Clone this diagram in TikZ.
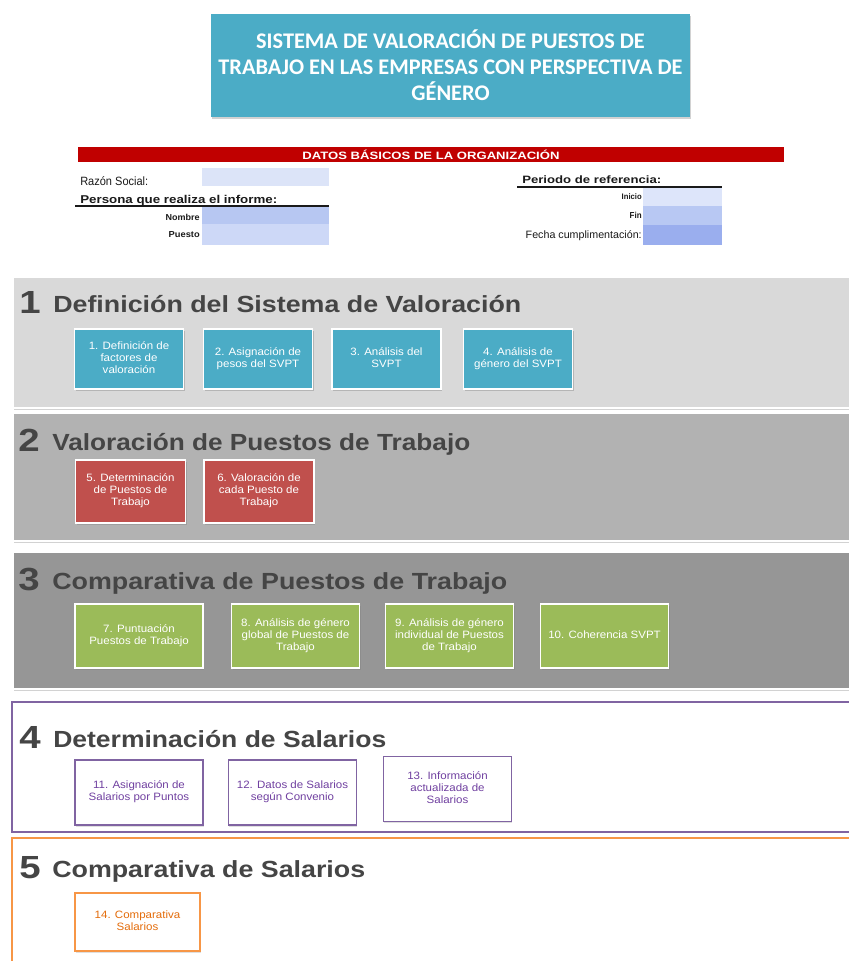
\documentclass[tikz,border=0pt]{standalone}
\usepackage{fontspec}
\usepackage{graphicx}
\setmainfont{Liberation Sans}
\newfontfamily\titlefont{Carlito}
\usetikzlibrary{shadows}
\definecolor{cTitle}{HTML}{4BACC6}
\definecolor{cBar}{HTML}{C00000}
\definecolor{cFa}{HTML}{DCE4F8}
\definecolor{cFb}{HTML}{B7C7F2}
\definecolor{cFc}{HTML}{CDD8F7}
\definecolor{cFd}{HTML}{DDE5FA}
\definecolor{cFe}{HTML}{B8C8F3}
\definecolor{cFf}{HTML}{9AAEEE}
\definecolor{cPa}{HTML}{D9D9D9}
\definecolor{cPb}{HTML}{B2B2B2}
\definecolor{cPc}{HTML}{969696}
\definecolor{cRed}{HTML}{C0504D}
\definecolor{cGreen}{HTML}{9BBB59}
\definecolor{cPurple}{HTML}{8064A2}
\definecolor{cPurpleT}{HTML}{7040A0}
\definecolor{cOrange}{HTML}{F79646}
\definecolor{cOrangeT}{HTML}{E46C0A}
\definecolor{cHead}{HTML}{454545}
\definecolor{cForm}{HTML}{1A1A1A}
\newcommand\fw[2]{\resizebox{\dimexpr #1pt*3/4\relax}{\height}{#2}}
\newcommand\bt[1]{\scalebox{1.08}[1]{\begin{tabular}{@{}c@{}}#1\end{tabular}}}
\begin{document}
\begin{tikzpicture}[x=0.75pt,y=-0.75pt,
  panel/.style={rectangle, anchor=north west, inner sep=0, minimum width=633.75pt},
  greypanel/.style={panel, draw=white, line width=1.5pt, drop shadow={shadow xshift=0.6pt, shadow yshift=-1.5pt, opacity=0.35}},
  tbox/.style={rectangle, draw=white, line width=1.2pt, text=white, inner sep=0,
    drop shadow={shadow xshift=0.8pt, shadow yshift=-1.5pt, opacity=0.4},
    font=\fontsize{8}{9}\selectfont},
  obox/.style={rectangle, line width=1.3pt, fill=white, inner sep=0,
    drop shadow={shadow xshift=0.6pt, shadow yshift=-1.2pt, opacity=0.25},
    font=\fontsize{8}{9}\selectfont},
  num/.style={anchor=base west, inner sep=0, text=cHead, font=\bfseries\fontsize{24}{26}\selectfont},
  headtxt/.style={anchor=base west, inner sep=0, text=cHead, font=\bfseries\fontsize{17.5}{19}\selectfont},
  field/.style={rectangle, anchor=north west, inner sep=0, minimum width=95.25pt},
  rfield/.style={rectangle, anchor=north west, inner sep=0, minimum width=59.25pt},
  flabel/.style={inner sep=0, text=cForm}
]
\path[use as bounding box] (0,0) rectangle (849,961);
\clip (0,0) rectangle (849,961);
\fill[white] (0,0) rectangle (849,961);

% title
\node[rectangle, fill=cTitle, minimum width=359.25pt, minimum height=77.25pt,
  inner sep=0, text=white, align=center, font=\titlefont\bfseries\fontsize{16.75}{19.5}\selectfont,
  drop shadow={shadow xshift=1pt, shadow yshift=-1.5pt, opacity=0.35}]
  (title) at (450.5,65.5) {SISTEMA DE VALORACIÓN DE PUESTOS DE\\TRABAJO EN LAS EMPRESAS CON PERSPECTIVA DE\\GÉNERO};

% data bar
\node[rectangle, fill=cBar, minimum width=529.5pt, minimum height=11.25pt, inner sep=0, text=white,
  font=\bfseries\fontsize{8}{9}\selectfont] (bar) at (431,154.5) {\fw{257}{DATOS BÁSICOS DE LA ORGANIZACIÓN}};

% form fields
\node[field, fill=cFa, minimum height=13.5pt] (fRazon) at (202,168) {};
\node[field, fill=cFb, minimum height=12.75pt] (fNombre) at (202,207) {};
\node[field, fill=cFc, minimum height=15.75pt] (fPuesto) at (202,224) {};
\node[rfield, fill=cFd, minimum height=13.5pt] (fInicio) at (643,188) {};
\node[rfield, fill=cFe, minimum height=14.25pt] (fFin) at (643,206) {};
\node[rfield, fill=cFf, minimum height=15pt] (fFecha) at (643,225) {};

\node[flabel, anchor=base west, font=\fontsize{9}{10}\selectfont] (lRazon) at (80,185) {\fw{68}{Razón Social:}};
\node[flabel, anchor=base west, font=\bfseries\fontsize{8.5}{10}\selectfont] (lPersona) at (80,203) {\fw{197}{Persona que realiza el informe:}};
\coordinate (uPa) at (75,205.5);
\coordinate (uPb) at (329,205.5);
\draw[line width=1.5pt, cForm] (uPa) -- (uPb);
\node[flabel, anchor=base east, font=\bfseries\fontsize{6.5}{8}\selectfont] (lNombre) at (200,220) {\fw{34}{Nombre}};
\node[flabel, anchor=base east, font=\bfseries\fontsize{6.5}{8}\selectfont] (lPuesto) at (200,237) {\fw{31}{Puesto}};
\node[flabel, anchor=base west, font=\bfseries\fontsize{8}{10}\selectfont] (lPeriodo) at (522,183) {\fw{139}{Periodo de referencia:}};
\coordinate (uRa) at (517,186.5);
\coordinate (uRb) at (722,186.5);
\draw[line width=1.5pt, cForm] (uRa) -- (uRb);
\node[flabel, anchor=base east, font=\bfseries\fontsize{6}{8}\selectfont] (lInicio) at (642,199) {\fw{20}{Inicio}};
\node[flabel, anchor=base east, font=\bfseries\fontsize{6.5}{8}\selectfont] (lFin) at (642,218) {\fw{12}{Fin}};
\node[flabel, anchor=base east, font=\fontsize{8}{10}\selectfont] (lFecha) at (642,238) {\fw{116}{Fecha cumplimentación:}};

% section panels
\node[greypanel, fill=cPa, minimum height=98.25pt] (p1) at (12,276) {};
\node[greypanel, fill=cPb, minimum height=96pt] (p2) at (12,412) {};
\node[greypanel, fill=cPc, minimum height=102.75pt] (p3) at (12,551) {};
\node[panel, draw=cPurple, line width=1.5pt, fill=white, minimum height=97.5pt] (p4) at (11,701) {};
\node[panel, draw=cOrange, line width=1.5pt, fill=white, minimum height=97.5pt] (p5) at (11,837) {};

% headings
\node[num] (n1) at (19,313) {\scalebox{1.2}[1]{1}};
\node[headtxt] (h1) at (53,312) {\fw{468}{Definición del Sistema de Valoración}};
\node[num] (n2) at (18,451) {\scalebox{1.2}[1]{2}};
\node[headtxt] (h2) at (52,450) {\fw{418}{Valoración de Puestos de Trabajo}};
\node[num] (n3) at (18,590) {\scalebox{1.2}[1]{3}};
\node[headtxt] (h3) at (52,589) {\fw{455}{Comparativa de Puestos de Trabajo}};
\node[num] (n4) at (19,748) {\scalebox{1.2}[1]{4}};
\node[headtxt] (h4) at (53,747) {\fw{333}{Determinación de Salarios}};
\node[num] (n5) at (19,878) {\scalebox{1.2}[1]{5}};
\node[headtxt] (h5) at (52,877) {\fw{313}{Comparativa de Salarios}};

% section 1 boxes
\begin{scope}[every node/.append style={tbox, fill=cTitle, minimum width=81.75pt, minimum height=45pt}]
\node (b1) at (129,359) {\bt{1. Definición de\\factores de\\valoración}};
\node (b2) at (258,359) {\bt{2. Asignación de\\pesos del SVPT}};
\node (b3) at (386.5,359) {\bt{3. Análisis del\\SVPT}};
\node (b4) at (518,359) {\bt{4. Análisis de\\género del SVPT}};
\end{scope}

% section 2 boxes
\begin{scope}[every node/.append style={tbox, fill=cRed, minimum width=82.5pt, minimum height=47.25pt}]
\node (b5) at (130.5,491.5) {\bt{5. Determinación\\de Puestos de\\Trabajo}};
\node (b6) at (259,491.5) {\bt{6. Valoración de\\cada Puesto de\\Trabajo}};
\end{scope}

% section 3 boxes
\begin{scope}[every node/.append style={tbox, fill=cGreen, minimum width=96pt, minimum height=48pt}]
\node (b7) at (139,636) {\bt{7. Puntuación\\Puestos de Trabajo}};
\node (b8) at (295.5,636) {\bt{8. Análisis de género\\global de Puestos de\\Trabajo}};
\node (b9) at (449.5,636) {\bt{9. Análisis de género\\individual de Puestos\\de Trabajo}};
\node (b10) at (604.5,636) {\bt{10. Coherencia SVPT}};
\end{scope}

% section 4 boxes
\begin{scope}[every node/.append style={obox, draw=cPurple, text=cPurpleT, minimum width=96pt, minimum height=48.75pt}]
\node (b11) at (139,792.5) {\bt{11. Asignación de\\Salarios por Puntos}};
\node (b12) at (292.5,792.5) {\bt{12. Datos de Salarios\\según Convenio}};
\node (b13) at (447.5,789) {\bt{13. Información\\actualizada de\\Salarios}};
\end{scope}

% section 5 box
\node[obox, draw=cOrange, text=cOrangeT, minimum width=93.75pt, minimum height=43.5pt] (b14) at (137.5,922) {\bt{14. Comparativa\\Salarios}};
\end{tikzpicture}
\end{document}
